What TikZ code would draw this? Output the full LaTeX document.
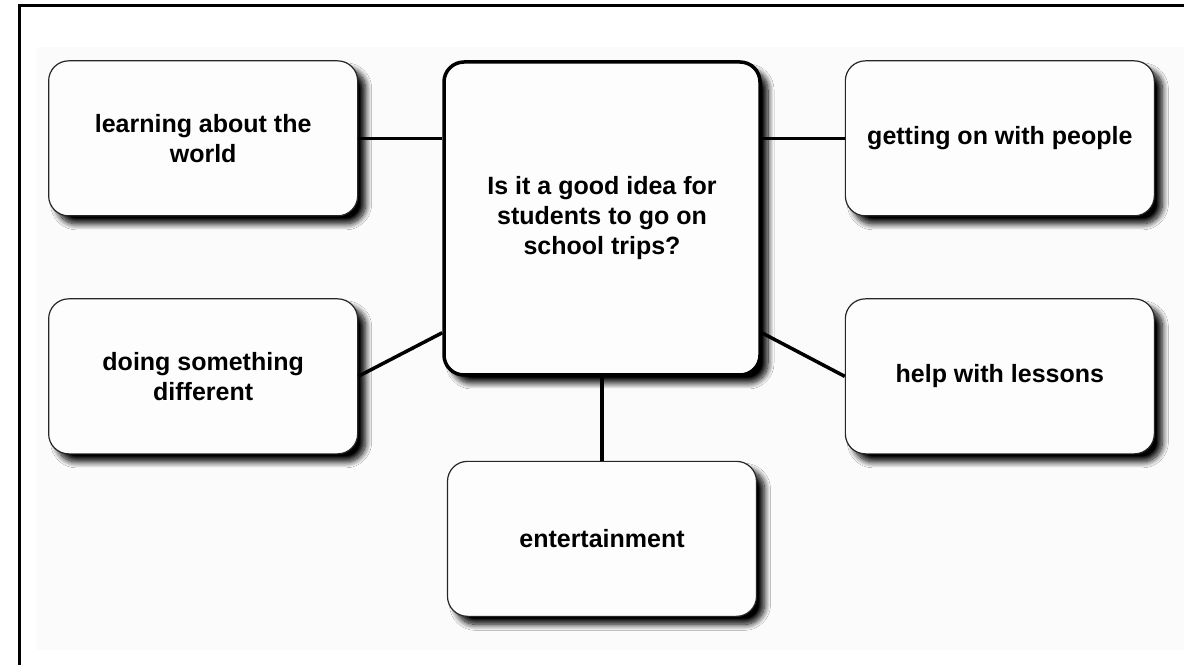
\documentclass[tikz,border=0pt]{standalone}
\usepackage{fontspec}
\setmainfont{Liberation Sans}
\usetikzlibrary{positioning,shadows.blur}
\definecolor{paper}{HTML}{FBFBFB}
\definecolor{boxfill}{HTML}{FDFDFD}

\begin{document}
\begin{tikzpicture}[x=1pt,y=1pt]
\tikzstyle{idea}=[rectangle, rounded corners=20pt, draw=black!85, line width=1.2pt, fill=boxfill, minimum width=309pt, minimum height=155pt, align=center, font=\bfseries\fontsize{25}{30}\selectfont, blur shadow={shadow xshift=8pt, shadow yshift=-8pt, shadow blur radius=6pt, shadow blur steps=12, shadow opacity=100}]
\tikzstyle{main}=[idea, draw=black, line width=3.5pt, minimum width=316pt, minimum height=313pt]
\tikzstyle{connect}=[line width=3.5pt]
\useasboundingbox (0,0) rectangle (1184,665);
\fill[paper] (37,15) rectangle (1184,618);
\draw[line width=3pt] (19.5,0) -- (19.5,659.5) -- (1184,659.5);
  \node[main] (trips) at (602,446.5) {Is it a good idea for\\students to go on\\school trips?};
\node[idea] (world) [below left =0pt and 84pt of trips.north west] {learning about the\\world};
  \node[idea] (people) [below right =0pt and 83pt of trips.north east] {getting on with people};
  \node[idea] (different) [below left =238pt and 84pt of trips.north west] {doing something\\different};
  \node[idea] (lessons) [below right =238pt and 83pt of trips.north east] {help with lessons};
  \node[idea] (fun) [below =84pt of trips] {entertainment};
\path[connect] (world.east) edge (world.east -| trips.west)
           (people.west) edge (people.west -| trips.east)
           (different.east) edge ([yshift=44pt]trips.south west)
           (lessons.west) edge ([yshift=44pt]trips.south east)
           (fun.north) edge (trips.south)
           ;
\end{tikzpicture}
\end{document}
